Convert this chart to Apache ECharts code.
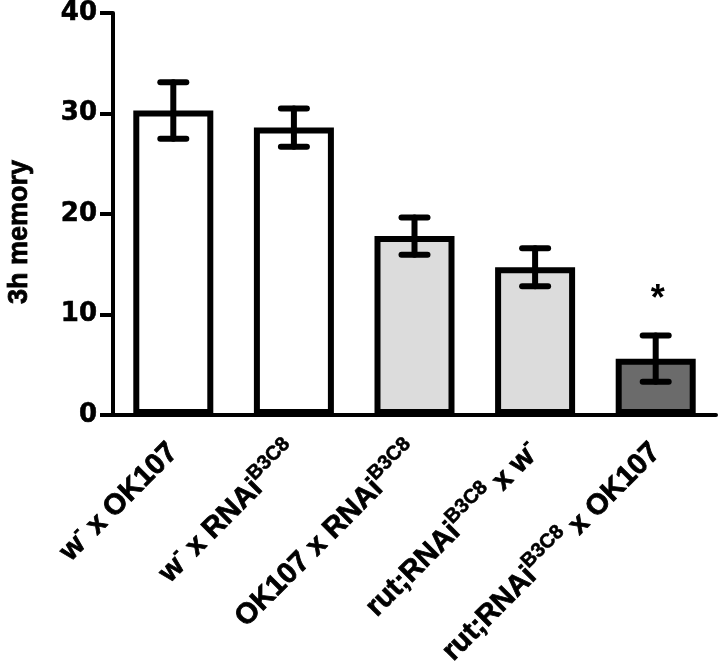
<!DOCTYPE html>
<html>
<head>
<meta charset="utf-8">
<script src="https://cdn.jsdelivr.net/npm/echarts@6/dist/echarts.min.js"></script>
<style>
  html, body { margin: 0; padding: 0; background: #fff; }
  #chart { width: 720px; height: 669px; }
</style>
</head>
<body>
<div id="chart"></div>
<script>
// "^" marks a superscript part of a label
const categories = ['w^- x OK107', 'w^- x RNAi^B3C8', 'OK107 x RNAi^B3C8', 'rut;RNAi^B3C8 x w^-', 'rut;RNAi^B3C8 x OK107'];
const means = [30.3, 28.6, 17.8, 14.7, 5.6];
const errors = [2.8, 1.9, 1.85, 1.9, 2.3];
const fills = ['#ffffff', '#ffffff', '#dcdcdc', '#dcdcdc', '#6b6b6b'];
const marks = ['', '', '', '', '*'];
const yTicks = [0, 10, 20, 30, 40];

const chart = echarts.init(document.getElementById('chart'));

const errData = categories.map((c, i) => [i, means[i], errors[i]]);

const option = {
  backgroundColor: '#fff',
  animation: false,
  grid: { left: 113, right: 4, top: 13, bottom: 254, containLabel: false, outerBoundsMode: 'none' },
  xAxis: {
    type: 'category',
    data: categories,
    axisLine: { lineStyle: { color: '#000', width: 4 } },
    axisTick: { show: false },
    axisLabel: {
      interval: 0,
      rotate: 45,
      margin: 33,
      color: '#000',
      fontFamily: 'Liberation Sans',
      fontWeight: 'bold',
      fontSize: 29,
      lineHeight: 40,
      textBorderColor: '#000',
      textBorderWidth: 0.8,
      formatter: (v) => v.replace(/\^(\S+)/g, '{sup|$1}'),
      rich: {
        sup: {
          fontFamily: 'Liberation Sans',
          fontWeight: 'bold',
          fontSize: 20,
          lineHeight: 20,
          verticalAlign: 'top',
          color: '#000',
          textBorderColor: '#000',
          textBorderWidth: 0.6
        }
      }
    }
  },
  yAxis: {
    type: 'value',
    min: yTicks[0],
    max: yTicks[yTicks.length - 1],
    interval: 10,
    name: '3h memory',
    nameLocation: 'middle',
    nameGap: 80,
    nameTextStyle: {
      color: '#000',
      fontFamily: 'Liberation Sans',
      fontWeight: 'bold',
      fontSize: 27,
      textBorderColor: '#000',
      textBorderWidth: 0.8,
      padding: [0, 36, 0, 0]
    },
    splitLine: { show: false },
    axisLine: { show: true, lineStyle: { color: '#000', width: 4 } },
    axisTick: { show: true, length: 13, lineStyle: { color: '#000', width: 4 } },
    axisLabel: {
      margin: 16,
      color: '#000',
      fontFamily: 'DejaVu Sans',
      fontWeight: 'bold',
      fontSize: 26,
      textBorderColor: '#000',
      textBorderWidth: 0.6
    }
  },
  series: [
    {
      type: 'bar',
      barWidth: 80,
      data: means.map((m, i) => ({
        value: m,
        itemStyle: { color: fills[i] }
      })),
      itemStyle: { borderColor: '#000', borderWidth: 6 },
      z: 2
    },
    {
      type: 'custom',
      z: 5,
      data: errData,
      renderItem: (params, api) => {
        const i = api.value(0);
        const m = api.value(1);
        const e = api.value(2);
        const top = api.coord([i, m + e]);
        const bot = api.coord([i, m - e]);
        const cap = 13;
        const style = { stroke: '#000', lineWidth: 6, lineCap: 'round' };
        const children = [
          { type: 'line', shape: { x1: top[0], y1: top[1], x2: bot[0], y2: bot[1] }, style: style },
          { type: 'line', shape: { x1: top[0] - cap, y1: top[1], x2: top[0] + cap, y2: top[1] }, style: style },
          { type: 'line', shape: { x1: bot[0] - cap, y1: bot[1], x2: bot[0] + cap, y2: bot[1] }, style: style }
        ];
        if (marks[params.dataIndex]) {
          children.push({
            type: 'text',
            style: {
              x: top[0] + 2,
              y: top[1] - 36,
              text: marks[params.dataIndex],
              fill: '#000',
              font: 'bold 36px "Liberation Sans"',
              textAlign: 'center',
              textVerticalAlign: 'middle'
            }
          });
        }
        return { type: 'group', children: children };
      }
    }
  ]
};

chart.setOption(option);
</script>
</body>
</html>
